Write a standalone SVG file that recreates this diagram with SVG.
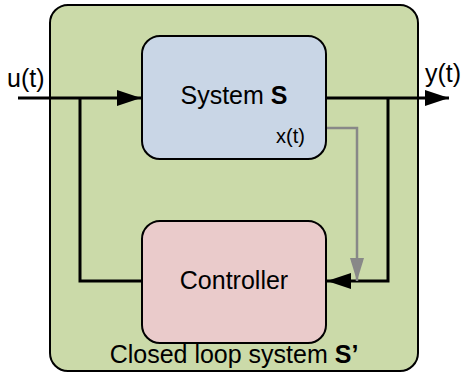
<svg xmlns="http://www.w3.org/2000/svg" width="464" height="373" viewBox="0 0 464 373">
<style>
.box{stroke:#000;stroke-width:2}
.t{font-family:"Liberation Sans",Arial,sans-serif;fill:#000}
.w{fill:none;stroke:#000;stroke-width:3}
.g{fill:none;stroke:#888;stroke-width:2.5}
</style>
<defs>
<marker id="ab" markerUnits="userSpaceOnUse" markerWidth="26" markerHeight="18" refX="24" refY="8" orient="auto" viewBox="0 0 26 16">
<path d="M0,0 L24,8 L0,16 Z" fill="#000"/>
</marker>
<marker id="ag" markerUnits="userSpaceOnUse" markerWidth="24" markerHeight="16" refX="23" refY="7" orient="auto" viewBox="0 0 24 14">
<path d="M0,0 L23,7 L0,14 Z" fill="#888"/>
</marker>
</defs>
<g id="closed-loop">
<rect class="box" x="50" y="5" width="368" height="366" rx="18" fill="#cbdaa9"/>
<text class="t" x="234" y="363" font-size="25" text-anchor="middle">Closed loop system <tspan font-weight="bold">S’</tspan></text>
</g>
<g id="connectors">
<path class="w" d="M18,98 H141" marker-end="url(#ab)"/>
<path class="w" d="M80,98 V281 H142"/>
<path class="w" d="M326,98 H449" marker-end="url(#ab)"/>
<path class="w" d="M388,98 V281 H327" marker-end="url(#ab)"/>
<path class="g" d="M326,128 H357 V281" marker-end="url(#ag)"/>
</g>
<g id="system">
<rect class="box" x="142" y="36" width="184" height="123" rx="18" fill="#c9d6e6"/>
<text class="t" x="234" y="104" font-size="25" text-anchor="middle">System <tspan font-weight="bold">S</tspan></text>
<text class="t" x="305" y="143" font-size="20" text-anchor="end">x(t)</text>
</g>
<g id="controller">
<rect class="box" x="142" y="221" width="184" height="122" rx="18" fill="#eacbcb"/>
<text class="t" x="234" y="289" font-size="25" text-anchor="middle">Controller</text>
</g>
<g id="labels">
<text class="t" x="7" y="87" font-size="25">u(t)</text>
<text class="t" x="425" y="82" font-size="25">y(t)</text>
</g>
</svg>
